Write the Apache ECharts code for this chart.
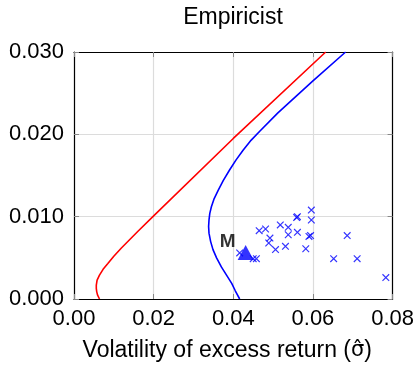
<!DOCTYPE html>
<html>
<head>
<meta charset="utf-8">
<script src="https://cdn.jsdelivr.net/npm/echarts@6/dist/echarts.min.js"></script>
<style>
  html, body { margin: 0; padding: 0; background: #fff; }
  #main { width: 417px; height: 367px; }
</style>
</head>
<body>
<div id="main"></div>
<script>
// frontier curves (volatility, mean excess return)
var redX = [0.0064, 0.0059, 0.0057, 0.0056, 0.0056, 0.0058, 0.0064, 0.0073, 0.0085, 0.0100, 0.0119, 0.0160, 0.0200, 0.0400, 0.0632];
var redY = [0.0000, 0.0005, 0.0009, 0.0013, 0.0017, 0.0023, 0.0029, 0.0036, 0.0043, 0.0052, 0.0062, 0.0082, 0.0101, 0.0195, 0.0300];

var blueX = [0.0416, 0.0405, 0.0396, 0.0383, 0.0370, 0.0358, 0.0349, 0.0343, 0.0339, 0.0338, 0.0339, 0.0341,
             0.0345, 0.0352, 0.0362, 0.0375, 0.0391, 0.0407, 0.0425, 0.0445, 0.0467, 0.0512, 0.0600, 0.0682];
var blueY = [0.0000, 0.0010, 0.0019, 0.0029, 0.0039, 0.0050, 0.0060, 0.0070, 0.0080, 0.0088, 0.0096, 0.0104,
             0.0112, 0.0122, 0.0132, 0.0144, 0.0157, 0.0169, 0.0181, 0.0193, 0.0204, 0.0226, 0.0265, 0.0300];

// individual assets
var assetX = [0.0465, 0.0481, 0.0518, 0.0538, 0.0538, 0.0561, 0.0559, 0.0596, 0.0596, 0.0561, 0.0590, 0.0594,
              0.0492, 0.0489, 0.0506, 0.0531, 0.0582, 0.0686, 0.0652, 0.0711, 0.0783, 0.0458, 0.0450, 0.0416];
var assetY = [0.0083, 0.0085, 0.0090, 0.0087, 0.0078, 0.0100, 0.0099, 0.0108, 0.0096, 0.0081, 0.0076, 0.0077,
              0.0074, 0.0068, 0.0060, 0.0064, 0.0061, 0.0077, 0.0049, 0.0049, 0.0026, 0.0049, 0.0049, 0.0056];

// market portfolio
var marketX = [0.0431];
var marketY = [0.00565];

var xTicks = [0, 0.08, 0.02];
var yTicks = [0, 0.03, 0.01];

function zip(xs, ys) {
  return xs.map(function (x, i) { return [x, ys[i]]; });
}

var font = 'Liberation Sans';
var chart = echarts.init(document.getElementById('main'), null, { renderer: 'canvas' });

var tickStyle = { show: true, inside: true, length: 5, lineStyle: { color: '#888', width: 1 } };
var gridLine = { show: true, lineStyle: { color: '#dcdcdc', width: 1.2 } };
var frame = { show: true, onZero: false, lineStyle: { color: '#000', width: 1.2 } };
// filled "x" so the marker keeps its colour
var crossPath = 'path://M0,1.1L1.1,0L10,8.9L8.9,10Z M8.9,0L10,1.1L1.1,10L0,8.9Z';

var option = {
  animation: false,
  graphic: [{
    type: 'text',
    x: 233, y: 18,
    style: {
      text: 'Empiricist', align: 'center', verticalAlign: 'middle',
      font: '23px "Liberation Sans"', fill: '#000'
    }
  }],
  grid: { left: 74, right: 24, top: 52, bottom: 67 },
  xAxis: [{
    type: 'value',
    min: xTicks[0], max: xTicks[1], interval: xTicks[2],
    name: '{a|Volatility of excess return (}{s|σ\u0302}{a|)}',
    nameLocation: 'middle',
    nameGap: 40,
    nameTextStyle: {
      fontFamily: font, fontSize: 23, color: '#000', padding: [0, 12, 0, 0],
      rich: {
        a: { fontFamily: font, fontSize: 23, color: '#000' },
        s: { fontFamily: 'DejaVu Sans', fontSize: 21, color: '#000' }
      }
    },
    axisLine: frame,
    axisTick: tickStyle,
    splitLine: gridLine,
    axisLabel: {
      margin: 9, fontFamily: font, fontSize: 22, color: '#000',
      formatter: function (v) { return v.toFixed(2); }
    }
  }, {
    type: 'value', position: 'top',
    min: xTicks[0], max: xTicks[1], interval: xTicks[2],
    axisLine: frame, axisTick: tickStyle, splitLine: { show: false }, axisLabel: { show: false }
  }],
  yAxis: [{
    type: 'value',
    min: yTicks[0], max: yTicks[1], interval: yTicks[2],
    axisLine: frame,
    axisTick: tickStyle,
    splitLine: gridLine,
    axisLabel: {
      margin: 10, fontFamily: font, fontSize: 22, color: '#000',
      formatter: function (v) { return v.toFixed(3); }
    }
  }, {
    type: 'value', position: 'right',
    min: yTicks[0], max: yTicks[1], interval: yTicks[2],
    axisLine: frame, axisTick: tickStyle, splitLine: { show: false }, axisLabel: { show: false }
  }],
  series: [
    {
      type: 'line', data: zip(redX, redY), smooth: false, showSymbol: false,
      lineStyle: { color: '#ff0000', width: 1.6 }, z: 3, silent: true
    },
    {
      type: 'line', data: zip(blueX, blueY), smooth: false, showSymbol: false,
      lineStyle: { color: '#0000ff', width: 1.6 }, z: 3, silent: true
    },
    {
      type: 'scatter', data: zip(assetX, assetY), silent: true,
      symbol: crossPath, symbolSize: 7.5,
      itemStyle: { color: '#0000ff' },
      emphasis: { disabled: true }, z: 4
    },
    {
      type: 'scatter', data: zip(marketX, marketY), silent: true,
      symbol: 'triangle', symbolSize: [16, 15],
      itemStyle: { color: '#0000ff' },
      emphasis: { disabled: true },
      label: {
        show: true, formatter: 'M', position: 'left', distance: 2, offset: [0, -11],
        fontFamily: font, fontWeight: 'bold', fontSize: 19, color: '#000'
      },
      z: 5
    }
  ]
};

chart.setOption(option);
</script>
</body>
</html>
